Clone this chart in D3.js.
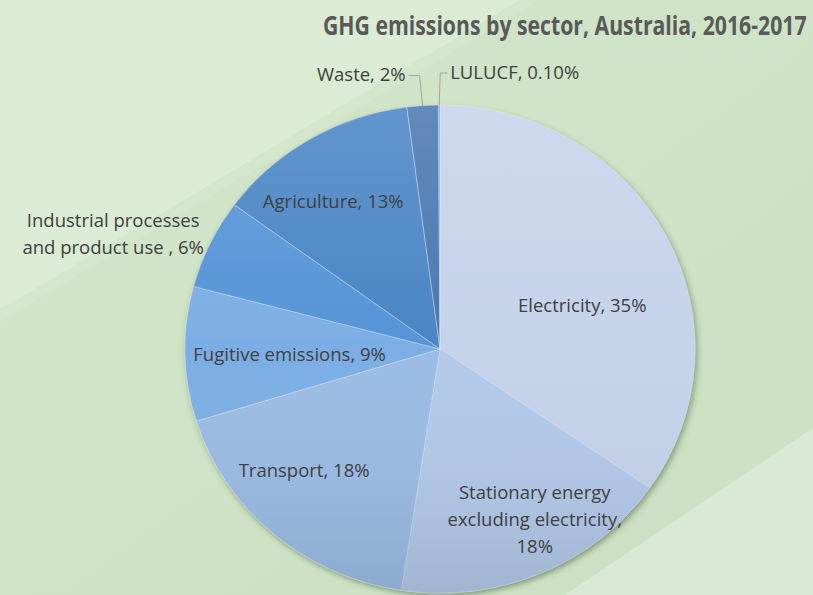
<!DOCTYPE html>
<html>
<head>
<meta charset="utf-8">
<script src="https://cdn.jsdelivr.net/npm/d3@7"></script>
<style>
  html, body { margin: 0; padding: 0; background: #cfe3c6; }
  svg { display: block; }
  text { font-family: "Open Sans", "Noto Sans", sans-serif; }
</style>
</head>
<body>
<svg id="chart" width="813" height="595"></svg>
<script>
// ---- data ----
const titleText = "GHG emissions by sector, Australia, 2016-2017";
const categories = ["Electricity", "Stationary energy excluding electricity", "Transport",
  "Fugitive emissions", "Industrial processes and product use ", "Agriculture", "Waste", "LULUCF"];
const values = [35, 18, 18, 9, 6, 13, 2, 0.1];
const valueLabels = ["35%", "18%", "18%", "9%", "6%", "13%", "2%", "0.10%"];
const labelLines = [
  ["Electricity, 35%"],
  ["Stationary energy", "excluding electricity,", "18%"],
  ["Transport, 18%"],
  ["Fugitive emissions, 9%"],
  ["Industrial processes", "and product use , 6%"],
  ["Agriculture, 13%"],
  ["Waste, 2%"],
  ["LULUCF, 0.10%"]
];
const colors = ["#c5d3eb", "#b2c9e9", "#9bbce5", "#7caee5", "#5494d7", "#4a85c5", "#4878b0", "#6a9bd0"];

// ---- layout ----
const W = 813, H = 595;
const cx = 440, cy = 349, R = 255, sy = 0.957;
const labelLayout = [
  { mode: "in", k: 0.63, dx: 0, dy: 28 },
  { mode: "in", k: 0.76, dx: 18, dy: 0 },
  { mode: "in", k: 0.72, dx: -16, dy: -12 },
  { mode: "in", k: 0.59, dx: 0, dy: 3 },
  { mode: "outLeft", k: 1.1, dx: 17, dy: 1 },
  { mode: "in", k: 0.737, dx: -11, dy: 7 },
  { mode: "leaderLeft", rise: 30, elbowDx: -3, tail: 11 },
  { mode: "leaderRight", rise: 32, elbowDx: 1, tail: 7 }
];
const lineH = 27;
const labelSize = 18.5;

const svg = d3.select("#chart");
const defs = svg.append("defs");

// background
const bgGrad = defs.append("linearGradient").attr("id", "bg").attr("x1", 0).attr("y1", 0).attr("x2", 1).attr("y2", 1);
bgGrad.append("stop").attr("offset", "0%").attr("stop-color", "#d3e6cb");
bgGrad.append("stop").attr("offset", "100%").attr("stop-color", "#cbe0c1");
svg.append("rect").attr("width", W).attr("height", H).attr("fill", "url(#bg)");
svg.append("path").attr("d", `M0,0 L520,0 L0,310 Z`).attr("fill", "#dbebd5").attr("opacity", 0.9);
svg.append("path").attr("d", `M0,310 L520,0 L540,0 L0,322 Z`).attr("fill", "#d6e8cf").attr("opacity", 0.6);
svg.append("path").attr("d", `M565,595 L813,428 L813,595 Z`).attr("fill", "#d9e9d3");

// shadow filter
const f = defs.append("filter").attr("id", "shadow").attr("x", "-10%").attr("y", "-10%").attr("width", "125%").attr("height", "125%");
f.append("feDropShadow").attr("dx", 2).attr("dy", 3).attr("stdDeviation", 3)
  .attr("flood-color", "#2f4a2c").attr("flood-opacity", 0.45);

// shading overlay gradient
const shade = defs.append("linearGradient").attr("id", "shade")
  .attr("gradientUnits", "userSpaceOnUse").attr("x1", 0).attr("y1", -R).attr("x2", 0).attr("y2", R);
shade.append("stop").attr("offset", "0%").attr("stop-color", "#ffffff").attr("stop-opacity", 0.14);
shade.append("stop").attr("offset", "50%").attr("stop-color", "#ffffff").attr("stop-opacity", 0.0);
shade.append("stop").attr("offset", "100%").attr("stop-color", "#000000").attr("stop-opacity", 0.1);

const pie = d3.pie().sort(null).value(d => d);
const arcs = pie(values);
const arc = d3.arc().innerRadius(0).outerRadius(R);

const pg = svg.append("g").attr("transform", `translate(${cx},${cy}) scale(1,${sy})`);
const shadowG = pg.append("g").attr("filter", "url(#shadow)");
shadowG.selectAll("path.slice").data(arcs).join("path")
  .attr("class", "slice")
  .attr("d", arc)
  .attr("fill", (d, i) => colors[i])
  .attr("stroke", "#dfe8f4").attr("stroke-opacity", 0.55).attr("stroke-width", 0.8)
  .attr("vector-effect", "non-scaling-stroke");
pg.append("circle").attr("r", R).attr("fill", "url(#shade)").style("pointer-events", "none");

function polar(a, r) {
  return [cx + r * Math.sin(a), cy - r * Math.cos(a) * sy];
}
const mid = d => (d.startAngle + d.endAngle) / 2;

const lg = svg.append("g").attr("fill", "#404040").attr("font-size", labelSize);

arcs.forEach((d, i) => {
  const L = labelLayout[i];
  const lines = labelLines[i];
  if (L.mode === "in" || L.mode === "outLeft") {
    const [px, py] = polar(mid(d), R * L.k);
    const x = px + L.dx, y = py + L.dy;
    const t = lg.append("text").attr("text-anchor", "middle");
    const n = lines.length;
    lines.forEach((s, j) => {
      t.append("tspan").attr("x", x).attr("y", y + (j - (n - 1) / 2) * lineH).attr("dy", "0.35em").text(s);
    });
    if (L.mode === "outLeft") {
      const bw = t.node().getBBox().width;
      t.selectAll("tspan").attr("x", x - bw / 2);
    }
  } else {
    const [ex, ey] = polar(mid(d), R);
    const ly = ey - L.rise;
    const elx = ex + L.elbowDx;
    const dir = L.mode === "leaderLeft" ? -1 : 1;
    const endx = elx + dir * L.tail;
    svg.append("path")
      .attr("d", `M${ex},${ey} L${elx},${ly} L${endx},${ly}`)
      .attr("fill", "none").attr("stroke", "#a5a5a5").attr("stroke-width", 1);
    lg.append("text")
      .attr("x", endx + dir * 3).attr("y", ly).attr("dy", "0.3em")
      .attr("text-anchor", dir < 0 ? "end" : "start")
      .text(lines[0]);
  }
});

// title: condensed horizontally to match the narrow original face
const titleG = svg.append("g");
const title = titleG.append("text")
  .attr("x", 0).attr("y", 0)
  .attr("font-size", 27).attr("font-weight", 700).attr("fill", "#595959")
  .text(titleText);
const tw = title.node().getComputedTextLength();
const targetW = 484;
titleG.attr("transform", `translate(323,35) scale(${targetW / tw},1)`);
</script>
</body>
</html>
